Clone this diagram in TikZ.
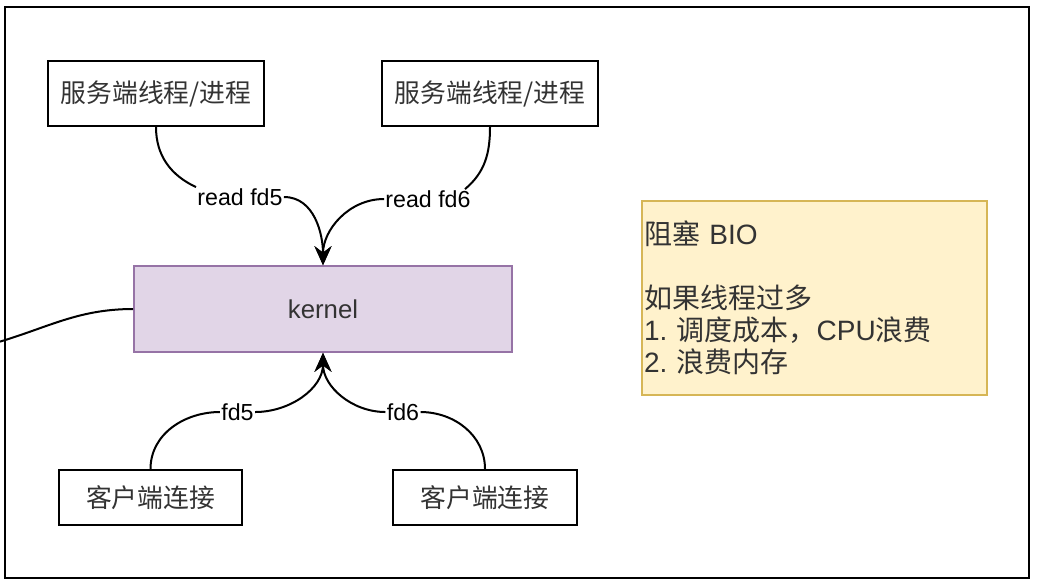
\documentclass[tikz,border=0pt]{standalone}
\usepackage{fontspec}
\setmainfont{Liberation Sans}
\newfontfamily\cjk{Noto Sans CJK SC}
\usetikzlibrary{arrows.meta}
\definecolor{kernfill}{HTML}{E1D5E7}
\definecolor{kerndraw}{HTML}{9673A6}
\definecolor{notefill}{HTML}{FFF2CC}
\definecolor{notedraw}{HTML}{D6B656}
\newcommand{\zh}[1]{{\cjk #1}}

\begin{document}
\begin{tikzpicture}[x=0.5pt,y=-0.5pt,>={Stealth[length=9.5pt,width=8.5pt,inset=3.2pt]},
  box/.style={draw,line width=1pt,text=black!80,inner sep=0pt,font=\fontsize{12.9pt}{15pt}\selectfont},
  lbl/.style={inner sep=0.5pt,font=\fontsize{11.6pt}{14pt}\selectfont},
  link/.style={line width=1pt}]
\useasboundingbox (0,0) rectangle (1037,586);
\draw[line width=1pt] (5,7) rectangle (1029,578);
% threads on the server side
\node[box,minimum width=108pt,minimum height=32.5pt] (srvA) at (156,93.5) {\zh{服务端线程/进程}};
\node[box,minimum width=108pt,minimum height=32.5pt] (srvB) at (490,93.5) {\zh{服务端线程/进程}};
% kernel
\node[box,fill=kernfill,draw=kerndraw,line width=0.8pt,minimum width=189pt,minimum height=43pt] (kern) at (323,309) {kernel};
% client connections
\node[box,minimum width=91.5pt,minimum height=27.5pt] (cliA) at (150.5,497.5) {\zh{客户端连接}};
\node[box,minimum width=92pt,minimum height=27.5pt] (cliB) at (485,497.5) {\zh{客户端连接}};
% note
\node[box,fill=notefill,draw=notedraw,line width=0.8pt,minimum width=172.5pt,minimum height=97pt,
  text width=170.5pt,align=left,font=\fontsize{14pt}{16pt}\selectfont\frenchspacing] (note) at (814.5,298)
  {\zh{阻塞} BIO\\[16pt]\zh{如果线程过多}\\1. \zh{调度成本，}CPU\zh{浪费}\\2. \zh{浪费内存}};
% edge labels
\node[lbl] (rd5) at (240,197) {read fd5};
\node[lbl] (rd6) at (428,199) {read fd6};
\node[lbl] (lb5) at (237.5,412) {fd5};
\node[lbl] (lb6) at (403,412) {fd6};
\coordinate (exit) at (-12,345);
% connectors
\draw[link,->] (srvA.south) to[out=-90,in=155] (rd5.north west) (rd5.east) to[out=0,in=90] (kern.north);
\draw[link,->] (srvB.south) to[out=-90,in=40] (rd6.15) (rd6.west) to[out=180,in=90] (kern.north);
\draw[link,->] (cliA) to[out=90,in=180] (lb5) to[out=0,in=-90] (kern);
\draw[link,->] (cliB) to[out=90,in=0] (lb6) to[out=180,in=-90] (kern);
\draw[link] (kern.west) to[out=180,in=15] (exit);
\end{tikzpicture}
\end{document}
